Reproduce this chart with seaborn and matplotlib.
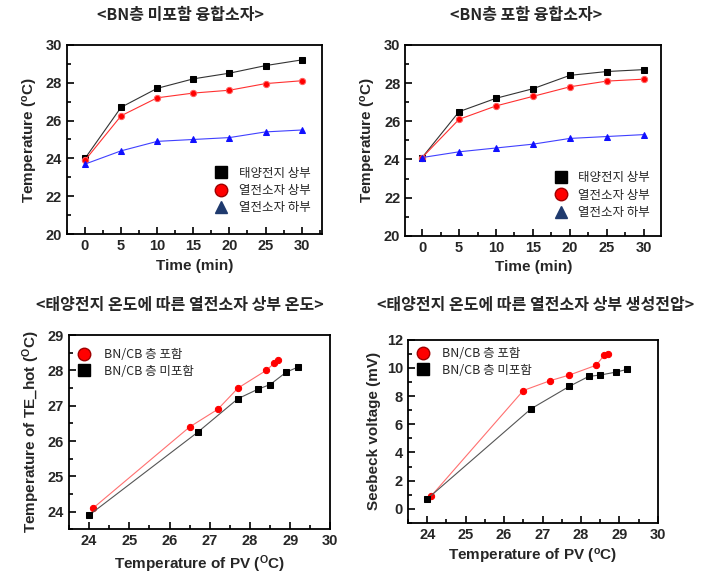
import matplotlib.pyplot as plt
import pandas as pd
import seaborn as sns
from matplotlib.lines import Line2D
from matplotlib.ticker import AutoMinorLocator, MultipleLocator

# time series (top row)
time_min = [0, 5, 10, 15, 20, 25, 30]

no_bn_pv_top = [24.0, 26.7, 27.7, 28.2, 28.5, 28.9, 29.2]
no_bn_te_top = [23.9, 26.25, 27.2, 27.45, 27.6, 27.95, 28.1]
no_bn_te_bottom = [23.7, 24.4, 24.9, 25.0, 25.1, 25.4, 25.5]

bn_pv_top = [24.1, 26.5, 27.2, 27.7, 28.4, 28.6, 28.7]
bn_te_top = [24.1, 26.1, 26.8, 27.3, 27.8, 28.1, 28.2]
bn_te_bottom = [24.1, 24.4, 24.6, 24.8, 25.1, 25.2, 25.3]

# bottom row
with_pv = [24.1, 26.5, 27.2, 27.7, 28.4, 28.6, 28.7]
with_te_hot = [24.1, 26.4, 26.9, 27.5, 28.0, 28.2, 28.3]
with_voltage = [0.9, 8.4, 9.1, 9.5, 10.2, 10.9, 11.0]

without_pv = [24.0, 26.7, 27.7, 28.2, 28.5, 28.9, 29.2]
without_te_hot = [23.9, 26.25, 27.2, 27.47, 27.6, 27.95, 28.1]
without_voltage = [0.7, 7.1, 8.7, 9.4, 9.5, 9.7, 9.9]

series_labels = ["태양전지 상부", "열전소자 상부", "열전소자 하부"]
layer_labels = ["BN/CB 층 포함", "BN/CB 층 미포함"]

sns.set_style("ticks")
plt.rcParams["font.family"] = ["Liberation Sans", "Noto Sans CJK KR", "DejaVu Sans"]
plt.rcParams["mathtext.default"] = "regular"
plt.rcParams["axes.linewidth"] = 1.3

fig = plt.figure(figsize=(7.12, 5.74), dpi=100)
ax1 = fig.add_axes([0.094, 0.592, 0.358, 0.330])
ax2 = fig.add_axes([0.569, 0.589, 0.360, 0.333])
ax3 = fig.add_axes([0.097, 0.078, 0.367, 0.338])
ax4 = fig.add_axes([0.573, 0.089, 0.351, 0.319])

kor = ["Noto Sans CJK KR", "DejaVu Sans"]


def style_axes(ax):
    ax.xaxis.set_minor_locator(AutoMinorLocator(2))
    ax.yaxis.set_minor_locator(AutoMinorLocator(2))
    ax.tick_params(which="both", direction="in", width=1.2, labelsize=10.5,
                   bottom=True, left=True, top=False, right=False,
                   color="black")
    ax.tick_params(which="major", length=5)
    ax.tick_params(which="minor", length=3)
    for lab in ax.get_xticklabels() + ax.get_yticklabels():
        lab.set_fontweight("bold")
    for s in ax.spines.values():
        s.set_visible(True)
        s.set_color("black")


def time_panel(ax, top, te_top, te_bot, xlim, leg_y):
    df = pd.DataFrame({"t": time_min, "pv": top, "tet": te_top, "teb": te_bot})
    sns.lineplot(data=df, x="t", y="pv", ax=ax, color="#333333", lw=0.8,
                 marker="s", markersize=4.5, markerfacecolor="black",
                 markeredgecolor="black")
    sns.lineplot(data=df, x="t", y="tet", ax=ax, color="#ff3030", lw=0.8,
                 marker="o", markersize=4.5, markerfacecolor="red",
                 markeredgecolor="#ff6060")
    sns.lineplot(data=df, x="t", y="teb", ax=ax, color="#4040ff", lw=0.8,
                 marker="^", markersize=4.5, markerfacecolor="#1010ff",
                 markeredgecolor="#1010ff")
    ax.set_xlim(*xlim)
    ax.set_ylim(20, 30)
    ax.xaxis.set_major_locator(MultipleLocator(5))
    ax.yaxis.set_major_locator(MultipleLocator(2))
    ax.set_xlabel("Time (min)", fontsize=11, fontweight="bold")
    ax.set_ylabel("Temperature ($^{o}$C)", fontsize=11, fontweight="bold")
    handles = [
        Line2D([], [], ls="none", marker="s", ms=8, mfc="black", mec="black"),
        Line2D([], [], ls="none", marker="o", ms=9, mfc="red", mec="#a00000"),
        Line2D([], [], ls="none", marker="^", ms=9, mfc="#1f3a6e", mec="#1f3a6e"),
    ]
    ax.legend(handles, series_labels, loc="lower right", frameon=False,
              prop={"family": kor, "size": 9}, handletextpad=0.4,
              labelspacing=0.35, bbox_to_anchor=(1.0, leg_y))
    style_axes(ax)


time_panel(ax1, no_bn_pv_top, no_bn_te_top, no_bn_te_bottom, (-2.5, 32.8), 0.045)
time_panel(ax2, bn_pv_top, bn_te_top, bn_te_bottom, (-2.3, 32.4), 0.03)


def pv_panel(ax, y_with, y_without, ylim, ystep, ylabel, leg_y, pad):
    dw = pd.DataFrame({"pv": with_pv, "y": y_with})
    dn = pd.DataFrame({"pv": without_pv, "y": y_without})
    sns.lineplot(data=dw, x="pv", y="y", ax=ax, sort=False, color="#ff7070",
                 lw=0.8, marker="o", markersize=4.5, markerfacecolor="red",
                 markeredgecolor="red")
    sns.lineplot(data=dn, x="pv", y="y", ax=ax, sort=False, color="#555555",
                 lw=0.8, marker="s", markersize=4.5, markerfacecolor="black",
                 markeredgecolor="black")
    ax.set_xlim(23.5, 30)
    ax.set_ylim(*ylim)
    ax.xaxis.set_major_locator(MultipleLocator(1))
    ax.yaxis.set_major_locator(MultipleLocator(ystep))
    ax.set_xlabel("Temperature of PV ($^{O}$C)", fontsize=11, fontweight="bold")
    ax.set_ylabel(ylabel, fontsize=11, fontweight="bold")
    handles = [
        Line2D([], [], ls="none", marker="o", ms=9, mfc="red", mec="#a00000"),
        Line2D([], [], ls="none", marker="s", ms=8, mfc="black", mec="black"),
    ]
    ax.legend(handles, layer_labels, loc="upper left", frameon=False,
              prop={"family": kor, "size": 9}, handlelength=1.0,
              handletextpad=pad, labelspacing=0.25,
              bbox_to_anchor=(-0.01, leg_y))
    style_axes(ax)


pv_panel(ax3, with_te_hot, without_te_hot, (23.5, 29), 1,
         "Temperature of TE_hot ($^{O}$C)", 0.99, 1.1)
pv_panel(ax4, with_voltage, without_voltage, (-1, 12), 2,
         "Seebeck voltage (mV)", 1.02, 1.0)
ax4.set_xlabel("Temperature of PV ($^{o}$C)", fontsize=11, fontweight="bold")

title_kw = dict(ha="center", va="center", fontsize=11.5, fontweight="bold",
                family=kor)
fig.text(180 / 712, 1 - 15 / 574, "<BN층 미포함 융합소자>", **title_kw)
fig.text(526 / 712, 1 - 15 / 574, "<BN층 포함 융합소자>", **title_kw)
fig.text(180 / 712, 1 - 305 / 574, "<태양전지 온도에 따른 열전소자 상부 온도>", **title_kw)
fig.text(536 / 712, 1 - 305 / 574, "<태양전지 온도에 따른 열전소자 상부 생성전압>", **title_kw)

fig.savefig("out.png", dpi=100)
